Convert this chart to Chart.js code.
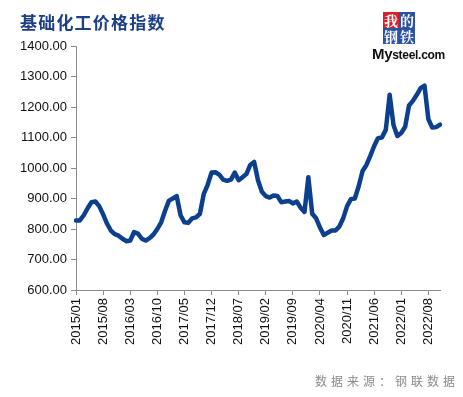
<!DOCTYPE html>
<html>
<head>
<meta charset="utf-8">
<script src="https://cdn.jsdelivr.net/npm/chart.js@4"></script>
<style>
  html, body { margin: 0; padding: 0; background: #fff; }
  #wrap { position: relative; width: 463px; height: 397px; overflow: hidden; }
  #c { position: absolute; left: 0; top: 0; }
  #title { position: absolute; left: 20px; top: 9px; font-family: "Noto Sans CJK SC", sans-serif; font-weight: 700; font-size: 17px; letter-spacing: 1.2px; color: #1c3f86; white-space: nowrap; }
  #source { position: absolute; right: 4px; top: 372px; font-family: "Noto Sans CJK SC", sans-serif; font-size: 12px; letter-spacing: 4px; color: #8a8a8a; white-space: nowrap; }
  #logo { position: absolute; left: 372px; top: 11px; width: 80px; height: 52px; }
  .bx { position: absolute; width: 16px; height: 16px; color: #fff; font-family: "Noto Serif CJK SC", "Noto Sans CJK SC", serif; font-size: 14px; line-height: 16px; text-align: center; font-weight: 700; }
  #mys { position: absolute; left: 0px; top: 34px; font-family: "Liberation Sans", Arial, sans-serif; font-weight: 700; color: #111; white-space: nowrap; letter-spacing: -0.3px; }
</style>
</head>
<body>
<div id="wrap">
  <canvas id="c" width="463" height="397"></canvas>
  <div id="title">基础化工价格指数</div>
  <div id="logo">
    <div class="bx" style="left:11px;top:1px;background:#d3222b;">我</div>
    <div class="bx" style="left:27px;top:1px;background:#2b53a3;">的</div>
    <div class="bx" style="left:11px;top:17px;background:#2b53a3;">钢</div>
    <div class="bx" style="left:27px;top:17px;background:#2b53a3;">铁</div>
    <div id="mys"><span style="font-size:15px;">My</span><span style="font-size:12px;">steel.com</span></div>
  </div>
  <div id="source">数据来源：钢联数据</div>
</div>
<script>
// Categories: monthly 2015/01 .. 2022/11
const months = [];
for (let y = 2015; y <= 2022; y++) {
  for (let m = 1; m <= 12; m++) {
    if (y === 2022 && m > 11) break;
    months.push(y + '/' + String(m).padStart(2, '0'));
  }
}

// Series: 基础化工价格指数
const indexValues = [
  828, 828, 845, 868, 888, 890, 875, 848, 818, 795, 783, 778,   // 2015
  768, 760, 762, 790, 785, 768, 762, 770, 782, 800, 822, 860,   // 2016
  893, 900, 908, 845, 822, 820, 835, 838, 850, 915, 945, 985,   // 2017
  986, 978, 962, 958, 962, 985, 960, 970, 980, 1010, 1020, 960, // 2018
  922, 908, 903, 910, 908, 888, 890, 892, 884, 890, 870, 856,   // 2019
  970, 850, 835, 805, 780, 788, 795, 795, 808, 835, 875, 898,   // 2020
  900, 940, 990, 1010, 1040, 1072, 1098, 1100, 1125, 1240, 1140, 1105, // 2021
  1115, 1135, 1205, 1220, 1240, 1262, 1270, 1160, 1133, 1134, 1142    // 2022
];

// Y tick range
const yMin = 600, yMax = 1400, yStep = 100;
const labelEvery = 7;

const axisGray = '#8c8c8c';

new Chart(document.getElementById('c'), {
  type: 'line',
  data: {
    labels: months,
    datasets: [{
      label: '基础化工价格指数',
      data: indexValues,
      borderColor: '#0c3f8e',
      borderWidth: 4.5,
      pointRadius: 0,
      tension: 0,
      fill: false,
      borderJoinStyle: 'round',
      borderCapStyle: 'round'
    }]
  },
  options: {
    responsive: false,
    animation: false,
    devicePixelRatio: 1,
    layout: { padding: { left: 0, right: 23, top: 46, bottom: 0 } },
    plugins: { legend: { display: false }, tooltip: { enabled: false } },
    scales: {
      x: {
        type: 'category',
        offset: false,
        border: { display: true, color: axisGray, width: 1 },
        grid: {
          display: true,
          drawOnChartArea: false,
          drawTicks: true,
          tickLength: 5,
          color: axisGray
        },
        ticks: {
          autoSkip: false,
          minRotation: 90,
          maxRotation: 90,
          padding: 3,
          color: '#111',
          font: { family: '"Liberation Sans", Arial, sans-serif', size: 13 },
          callback: function (v, i) { return i % labelEvery === 0 ? this.getLabelForValue(v) : null; }
        },
        afterFit: function (s) { s.height = 107; }
      },
      y: {
        min: yMin,
        max: yMax,
        border: { display: true, color: axisGray, width: 1 },
        grid: {
          display: true,
          drawOnChartArea: false,
          drawTicks: true,
          tickLength: 5,
          color: axisGray
        },
        ticks: {
          stepSize: yStep,
          padding: 4,
          color: '#111',
          font: { family: '"Liberation Sans", Arial, sans-serif', size: 13 },
          callback: v => v.toFixed(2)
        },
        afterFit: function (s) { s.width = 76; }
      }
    }
  }
});
</script>
</body>
</html>
